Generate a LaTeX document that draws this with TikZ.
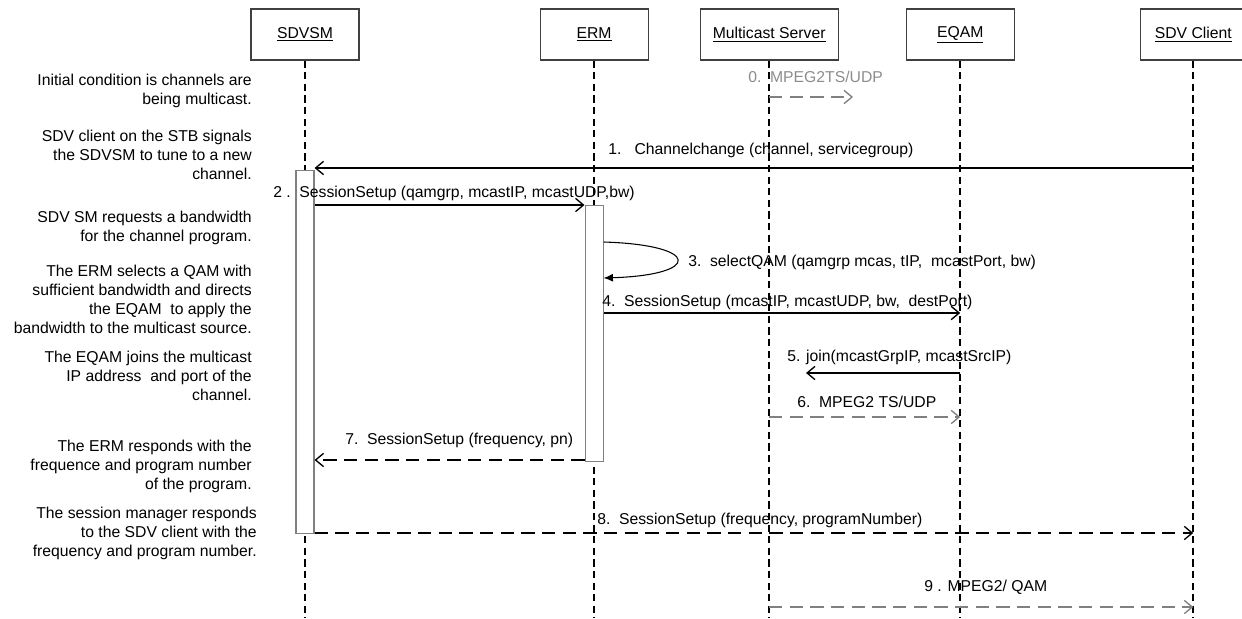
\documentclass[tikz,border=0pt]{standalone}
\usepackage{fontspec}
\setmainfont{Liberation Sans}
\usepackage{tikz}
\usetikzlibrary{arrows,arrows.meta}
\usetikzlibrary{positioning}
\usetikzlibrary{calc}
\tikzstyle{head} = [draw = black!75, rectangle, minimum height = 38.25pt, minimum width = 81pt, line width = 0.8pt]
\tikzstyle{life} = [line width = 1.5pt, dash pattern = on 5.5pt off 3.2pt]
\tikzstyle{act} = [draw = black!50, fill = white, rectangle, minimum width = 13.5pt, line width = 0.8pt, inner sep = 0pt]
\tikzstyle{msg} = [line width = 1pt, ->]
\tikzstyle{reply} = [msg, dash pattern = on 10pt off 5.5pt]
\tikzstyle{flow} = [reply, black!50]
\tikzstyle{note} = [align = right, anchor = east, inner sep = 0pt]
\tikzstyle{lbl} = [anchor = west, inner sep = 0pt]

\begin{document}
\begin{tikzpicture}[x = 0.75pt, y = -0.75pt, >={Straight Barb[length = 6pt, width = 10pt]}, font = \fontsize{11.8}{14.2}\selectfont]
	\useasboundingbox (0,0) rectangle (1242,618);
	
	% Lifeline heads
	\node[head] (sdvsm) at (305,34.5) {\underline{SDVSM}};
	\node[head, right = 135pt of sdvsm] (erm) {\underline{ERM}};
	\node[head, minimum width = 103.5pt, right = 38.25pt of erm] (mcast) {\underline{Multicast Server}};
	\node[head, right = 50.25pt of mcast] (eqam) {\underline{EQAM}};
	\node[head, minimum width = 79.5pt, right = 93.75pt of eqam] (client) {\underline{SDV Client}};
	\coordinate (bottom) at (0,618);
	
	% Lifelines
	\foreach \n in {sdvsm, erm, mcast, eqam, client}
		\draw[life] (\n.south) -- (\n |- bottom);
	
	% Message rows
	\coordinate (r0) at (0,97);
	\coordinate (r1) at (0,168);
	\coordinate (a1) at (0,170);
	\coordinate (r2) at (0,205);
	\coordinate (r3a) at (0,242);
	\coordinate (r3b) at (0,278);
	\coordinate (r4) at (0,313);
	\coordinate (r5) at (0,373);
	\coordinate (r6) at (0,417);
	\coordinate (r7) at (0,460);
	\coordinate (r8) at (0,533);
	\coordinate (r9) at (0,607);
	\coordinate (m0end) at (853,97);
	\coordinate (m5end) at (806,373);
	
	% Activation bars
	\node[act, anchor = north, minimum height = 272.25pt] (sdvsmact) at (sdvsm |- a1) {};
	\node[act, anchor = north, minimum height = 192pt] (ermact) at (erm |- r2) {};
	
	% Notes on the left
	\node[note] (n0) at (252,91) {Initial condition is channels are\\being multicast.};
	\node[note] (n1) at (252,155) {SDV client on the STB signals\\the SDVSM to tune to a new\\channel.};
	\node[note] (n2) at (252,228) {SDV SM requests a bandwidth\\for the channel program.};
	\node[note] (n3) at (252,299) {The ERM selects a QAM with\\sufficient bandwidth and directs\\the EQAM\ \ to apply the\\bandwidth to the multicast source.};
	\node[note] (n4) at (252,376) {The EQAM joins the multicast\\IP address\ \ and port of the\\channel.};
	\node[note] (n5) at (252,466) {The ERM responds with the\\frequence and program number\\of the program.};
	\node[note] (n6) at (257,533) {The session manager responds\\to the SDV client with the\\frequency and program number.};
	
	% Message labels
	\node[lbl, text = black!45] (l0) at (748,77) {0.\ \ MPEG2TS/UDP};
	\node[lbl] (l1) at (608,150) {1.\ \ \ Channelchange (channel, servicegroup)};
	\node[lbl] (l2) at (273,193) {2 .\ \ SessionSetup (qamgrp, mcastIP, mcastUDP,bw)};
	\node[lbl] (l3) at (688,262) {3.\ \ selectQAM (qamgrp mcas, tIP,\ \ mcastPort, bw)};
	\node[lbl] (l4) at (602,302) {4.\ \ SessionSetup (mcastIP, mcastUDP, bw,\ \ destPort)};
	\node[lbl] (l5) at (787,357) {5. join(mcastGrpIP, mcastSrcIP)};
	\node[lbl] (l6) at (797,402) {6.\ \ MPEG2 TS/UDP};
	\node[lbl] (l7) at (345,440) {7.\ \ SessionSetup (frequency, pn)};
	\node[lbl] (l8) at (597,520) {8.\ \ SessionSetup (frequency, programNumber)};
	\node[lbl] (l9) at (924,587) {9 . MPEG2/ QAM};
	
	% Messages
	\draw[flow] (mcast |- r0) -- (m0end);
	\draw[msg] (client |- r1) -- (sdvsmact.east |- r1);
	\draw[msg] (sdvsmact.east |- r2) -- (ermact.west |- r2);
	\draw[line width = 0.8pt, -{Latex[length = 7pt, width = 6pt]}] (ermact.east |- r3a) .. controls +(98,3) and +(98,-3) .. (ermact.east |- r3b);
	\draw[msg] (ermact.east |- r4) -- (eqam |- r4);
	\draw[msg] (eqam |- r5) -- (m5end);
	\draw[flow] (mcast |- r6) -- (eqam |- r6);
	\draw[reply] (ermact.west |- r7) -- (sdvsmact.east |- r7);
	\draw[reply] (sdvsmact.east |- r8) -- (client |- r8);
	\draw[flow] (mcast |- r9) -- (client |- r9);
	
\end{tikzpicture}
\end{document}
